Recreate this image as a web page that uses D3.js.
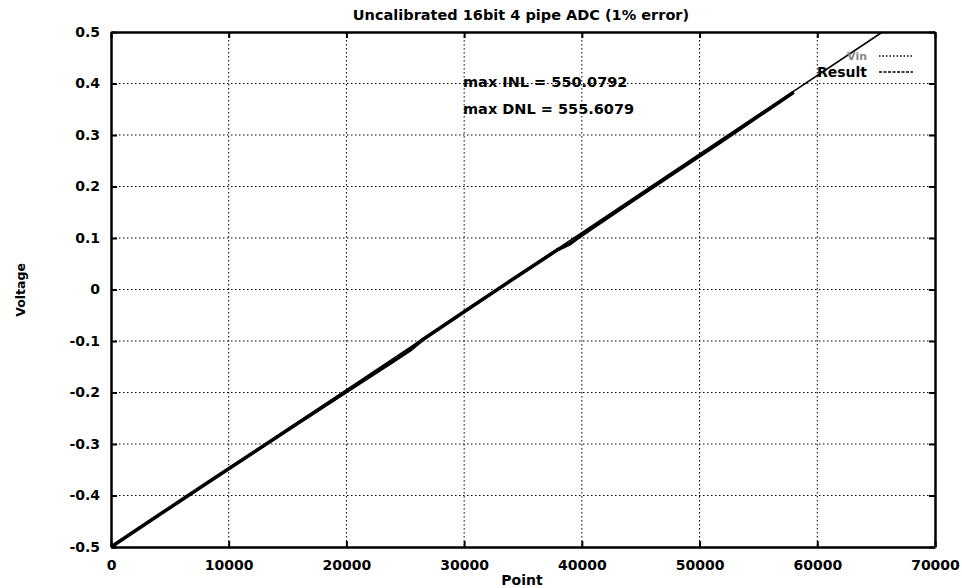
<!DOCTYPE html>
<html>
<head>
<meta charset="utf-8">
<script src="https://cdn.jsdelivr.net/npm/d3@7"></script>
<style>
  body { margin: 0; background: #fff; }
  svg { font-family: "DejaVu Sans", "Liberation Sans", Arial, sans-serif; font-weight: bold; }
</style>
</head>
<body>
<svg id="chart" width="962" height="588"></svg>
<script>
// Axis ticks
const xTicks = [0, 10000, 20000, 30000, 40000, 50000, 60000, 70000];
const yTicks = [-0.5, -0.4, -0.3, -0.2, -0.1, 0, 0.1, 0.2, 0.3, 0.4, 0.5];
const yTickLabels = ["-0.5", "-0.4", "-0.3", "-0.2", "-0.1", "0", "0.1", "0.2", "0.3", "0.4", "0.5"];

// Ideal input ramp
const vinPoint = [0, 65535];
const vinValue = [-0.5, 0.5];

// ADC output (uncalibrated)
const resultPoint = [0, 4000, 8000, 12000, 16000, 20000, 24000, 25500, 26500, 30000, 34000, 38000, 39000, 40000, 44000, 48000, 52000, 56000, 58000];
const resultValue = [-0.5, -0.439, -0.378, -0.318, -0.258, -0.198, -0.139, -0.116, -0.097, -0.043, 0.018, 0.078, 0.089, 0.106, 0.168, 0.229, 0.290, 0.352, 0.383];

const annotations = ["max INL = 550.0792", "max DNL = 555.6079"];
const legendNames = ["Vin", "Result"];

const svg = d3.select("#chart");
const m = { left: 111, right: 935, top: 32, bottom: 547 };

const x = d3.scaleLinear().domain([0, 70000]).range([m.left, m.right]);
const y = d3.scaleLinear().domain([-0.5, 0.5]).range([m.bottom, m.top]);

// Grid
const grid = svg.append("g").attr("stroke", "#000").attr("stroke-width", 1)
  .attr("stroke-dasharray", "1.5,2.5");
grid.selectAll(".gx").data(xTicks.slice(1, -1)).join("line")
  .attr("x1", d => x(d)).attr("x2", d => x(d))
  .attr("y1", m.top).attr("y2", m.bottom);
grid.selectAll(".gy").data(yTicks.slice(1, -1)).join("line")
  .attr("x1", m.left).attr("x2", m.right)
  .attr("y1", d => y(d)).attr("y2", d => y(d));

// Axes
const fmtY = (d, i) => yTickLabels[i];
const axL = svg.append("g").attr("transform", `translate(${m.left},0)`)
  .call(d3.axisLeft(y).tickValues(yTicks).tickFormat(fmtY).tickSizeInner(-6).tickSizeOuter(0).tickPadding(11));
const axR = svg.append("g").attr("transform", `translate(${m.right},0)`)
  .call(d3.axisRight(y).tickValues(yTicks).tickFormat("").tickSizeInner(-6).tickSizeOuter(0));
const axB = svg.append("g").attr("transform", `translate(0,${m.bottom})`)
  .call(d3.axisBottom(x).tickValues(xTicks).tickFormat(d3.format("d")).tickSizeInner(-6).tickSizeOuter(0).tickPadding(13));
const axT = svg.append("g").attr("transform", `translate(0,${m.top})`)
  .call(d3.axisTop(x).tickValues(xTicks).tickFormat("").tickSizeInner(-6).tickSizeOuter(0));

[axL, axR, axB, axT].forEach(a => {
  a.select(".domain").attr("stroke", "#000").attr("stroke-width", 2.5);
  a.selectAll(".tick line").attr("stroke", "#000").attr("stroke-width", 2);
  a.selectAll("text").attr("font-size", 14).attr("font-weight", "bold")
    .attr("font-family", "DejaVu Sans, sans-serif").attr("fill", "#000");
});

// Data lines
const line = d3.line().x(d => x(d[0])).y(d => y(d[1]));
svg.append("path")
  .datum(vinPoint.map((p, i) => [p, vinValue[i]]))
  .attr("d", line).attr("fill", "none").attr("stroke", "#000").attr("stroke-width", 1.6);
svg.append("path")
  .datum(resultPoint.map((p, i) => [p, resultValue[i]]))
  .attr("d", line).attr("fill", "none").attr("stroke", "#000").attr("stroke-width", 3.6)
  .attr("stroke-linejoin", "round");

// Title and axis labels
svg.append("text").attr("x", 521).attr("y", 20).attr("text-anchor", "middle")
  .attr("font-size", 14.5).text("Uncalibrated 16bit 4 pipe ADC (1% error)");
svg.append("text").attr("x", 522).attr("y", 585).attr("text-anchor", "middle")
  .attr("font-size", 14).text("Point");
svg.append("text").attr("transform", "translate(25,290) rotate(-90)").attr("text-anchor", "middle")
  .attr("font-size", 12.5).text("Voltage");

// Annotations
svg.selectAll(".ann").data(annotations).join("text")
  .attr("x", 463).attr("y", (d, i) => 87 + i * 27)
  .attr("font-size", 14.5).text(d => d);

// Legend
const leg = svg.append("g");
legendNames.forEach((name, i) => {
  const ly = 56 + i * 16;
  leg.append("text").attr("x", 867).attr("y", ly + 4 + i).attr("text-anchor", "end")
    .attr("font-size", i === 0 ? 11 : 14).attr("fill", i === 0 ? "#888" : "#000").text(name);
  leg.append("line").attr("x1", 879).attr("x2", 913).attr("y1", ly).attr("y2", ly)
    .attr("stroke", "#000").attr("stroke-width", 1.5)
    .attr("stroke-dasharray", i === 0 ? "1.5,2" : "3,1.5");
});
</script>
</body>
</html>
